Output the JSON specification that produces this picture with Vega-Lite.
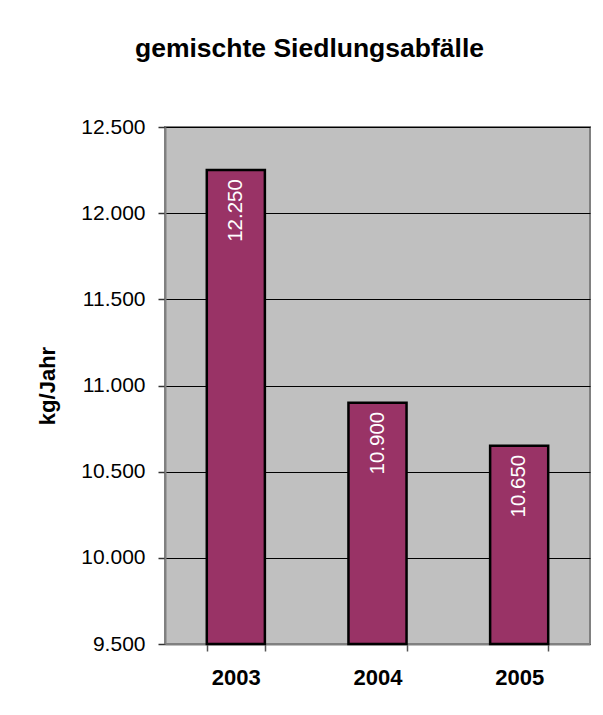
{
  "$schema": "https://vega.github.io/schema/vega-lite/v6.json",
  "width": 425,
  "height": 517,
  "autosize": {"type": "none"},
  "padding": {"left": 165, "top": 127, "right": 13, "bottom": 71},
  "background": "white",
  "config": {
    "locale": {"number": {"decimal": ",", "thousands": ".", "grouping": [3], "currency": ["", " €"]}},
    "font": "Liberation Sans",
    "view": {"fill": "#C0C0C0", "stroke": "#808080", "strokeWidth": 2}
  },
  "title": {
    "text": "gemischte Siedlungsabfälle",
    "fontSize": 26.5,
    "fontWeight": "bold",
    "font": "Liberation Sans",
    "color": "black",
    "anchor": "middle",
    "frame": "group",
    "baseline": "alphabetic",
    "dx": -68,
    "offset": 33
  },
  "data": {
    "values": [
      {"Jahr": "2003", "Menge": 12250},
      {"Jahr": "2004", "Menge": 10900},
      {"Jahr": "2005", "Menge": 10650}
    ]
  },
  "encoding": {
    "x": {
      "field": "Jahr",
      "type": "nominal",
      "scale": {"paddingInner": 0.59, "paddingOuter": 0.295},
      "axis": {
        "title": null,
        "labelAngle": 0,
        "labelFontSize": 22,
        "labelFontWeight": "bold",
        "labelColor": "black",
        "labelPadding": 16,
        "tickBand": "extent",
        "tickSize": 7,
        "tickColor": "#555555",
        "tickWidth": 1.5,
        "domainColor": "#808080",
        "domainWidth": 2,
        "grid": false
      }
    },
    "y": {
      "field": "Menge",
      "type": "quantitative",
      "scale": {"domain": [9500, 12500], "zero": false, "nice": false},
      "axis": {
        "title": "kg/Jahr",
        "titleFontSize": 22,
        "titleFontWeight": "bold",
        "titleColor": "black",
        "titlePadding": 21,
        "values": [9500, 10000, 10500, 11000, 11500, 12000, 12500],
        "format": ",d",
        "labelFontSize": 21,
        "labelColor": "black",
        "labelPadding": 13,
        "tickSize": 7,
        "tickColor": "#333333",
        "tickWidth": 1.5,
        "domainColor": "#808080",
        "domainWidth": 2,
        "grid": true,
        "gridColor": "black",
        "gridWidth": 1,
        "gridOpacity": 1
      }
    }
  },
  "layer": [
    {
      "mark": {"type": "bar", "color": "#993366", "stroke": "black", "strokeWidth": 2.5},
      "encoding": {"y2": {"datum": 9500}}
    },
    {
      "mark": {"type": "text", "angle": 270, "align": "right", "baseline": "middle", "dx": -9, "color": "white", "fontSize": 20.5, "font": "Liberation Sans"},
      "encoding": {"text": {"field": "Menge", "type": "quantitative", "format": ",d"}}
    }
  ]
}
